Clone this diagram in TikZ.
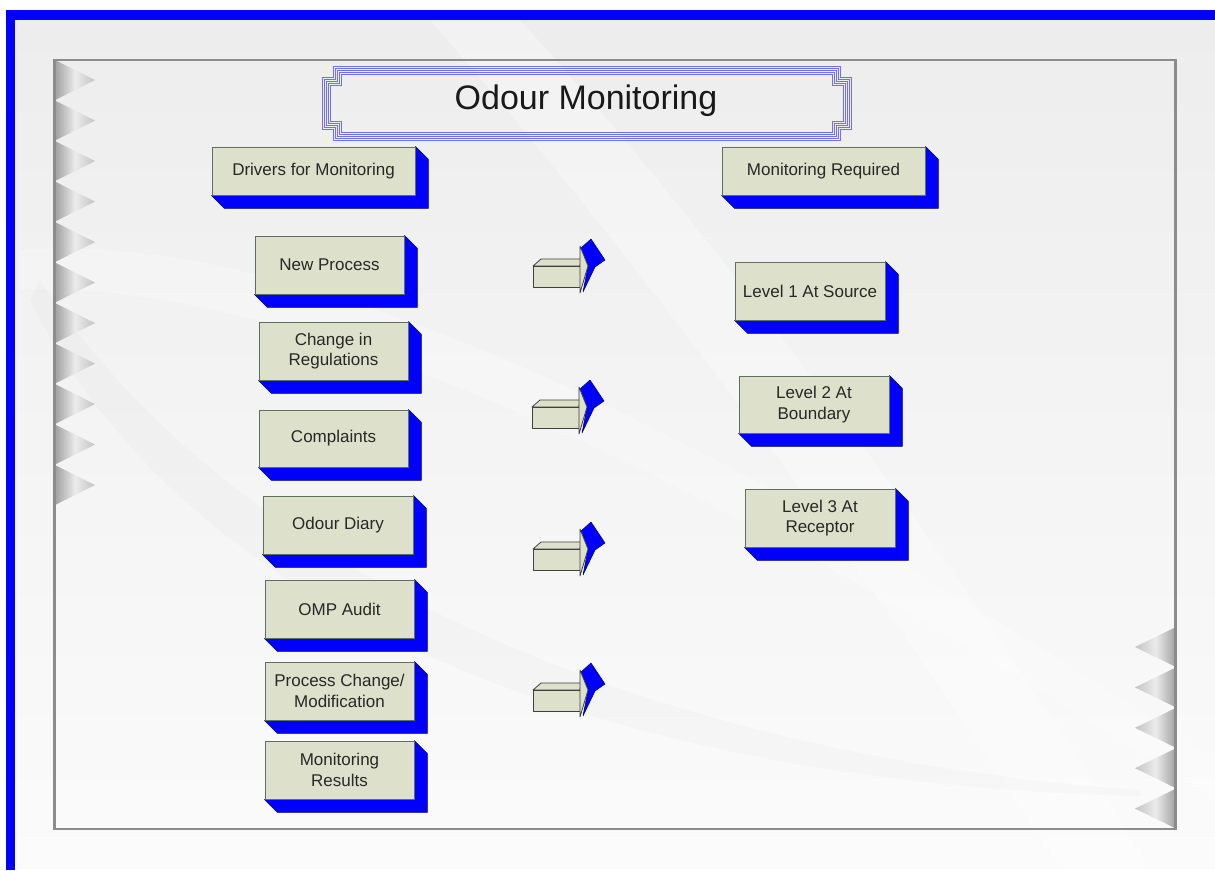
\documentclass[tikz,border=0pt]{standalone}
\usepackage{fontspec}
\setmainfont{Liberation Sans}
\usetikzlibrary{calc}
\definecolor{face}{RGB}{221,224,203}
\definecolor{edgec}{RGB}{95,110,95}
\definecolor{bblue}{RGB}{0,0,255}
\definecolor{txt}{RGB}{40,40,40}
\definecolor{bgtop}{RGB}{237,237,237}
\definecolor{bgbot}{RGB}{251,251,251}
\definecolor{framegray}{RGB}{140,140,140}
\definecolor{titleblue}{RGB}{110,110,255}
\definecolor{trdark}{RGB}{160,160,160}
\definecolor{trmid}{RGB}{235,235,235}
\definecolor{trtip}{RGB}{195,195,195}
\tikzset{
  box/.style={draw=edgec, line width=0.9pt, fill=face, inner sep=0pt, align=center,
    text=txt, font=\fontsize{17}{20.5}\selectfont},
  ext/.style={fill=bblue, draw=black!60!blue, line width=0.5pt, line join=round},
  arrowface/.style={fill=face, draw=black!75, line width=0.8pt, line join=round},
  titleline/.style={draw=titleblue, line width=1pt},
}
\newcommand\tdbox[6]{%
  \node[box, minimum width=#4pt, minimum height=#5pt] (#1) at (#2,#3) {#6};
  \filldraw[ext] (#1.north east) -- ($(#1.north east)+(13,13)$) -- ($(#1.south east)+(13,13)$)
     -- ($(#1.south west)+(13,13)$) -- (#1.south west) -- (#1.south east) -- cycle;
  \draw[edgec, line width=0.9pt] (#1.south west) -- (#1.south east) -- (#1.north east);
}
\newcommand\blockarrow[3]{%
  \coordinate (#1) at (#2,#3);
  \begin{scope}[shift={(#1)}]
    \filldraw[arrowface] (0,0) -- (8,-7) -- (48,-7) -- (47,0) -- cycle;
    \filldraw[arrowface] (0,0) rectangle (47,21);
    \filldraw[ext] (48,-18) -- (58,-27) -- (72,-6) -- (62,1) -- (50,26) -- (55,0) -- cycle;
    \filldraw[arrowface] (47,-20) -- (55,0) -- (47,27) -- cycle;
  \end{scope}
}
\newcommand\notchrect[5]{%
  \draw[titleline] (#1+#5,#2) -- (#3-#5,#2) -- (#3-#5,#2+#5) -- (#3,#2+#5) -- (#3,#4-#5)
    -- (#3-#5,#4-#5) -- (#3-#5,#4) -- (#1+#5,#4) -- (#1+#5,#4-#5) -- (#1,#4-#5)
    -- (#1,#2+#5) -- (#1+#5,#2+#5) -- cycle;
}
\begin{document}
\begin{tikzpicture}[x=1pt,y=-1pt]
\useasboundingbox (0,0) rectangle (1215,870);
\fill[white] (0,0) rectangle (1215,870);
% background
\shade[top color=bgtop, bottom color=bgbot] (15,20) rectangle (1215,868);
\fill[white, opacity=0.3] (430,20) .. controls (640,260) and (860,560) .. (1060,868)
   -- (1150,868) .. controls (940,540) and (720,240) .. (520,20) -- cycle;
\fill[white, opacity=0.25] (20,250) .. controls (300,230) and (700,420) .. (1215,760)
   -- (1215,800) .. controls (700,470) and (300,280) .. (20,290) -- cycle;
\fill[black, opacity=0.015] (40,280) .. controls (250,600) and (700,760) .. (1140,790)
   -- (1140,796) .. controls (650,785) and (200,640) .. (30,300) -- cycle;
% blue border
\fill[bblue] (6,10) rectangle (1215,20);
\fill[bblue] (6,10) rectangle (15,870);
% inner frame
\draw[framegray, line width=2pt] (54,60) rectangle (1176,829);
% left triangles
\foreach \k in {0,...,10} {
  \shade[left color=trdark, right color=trtip, middle color=trmid]
    (55,{60+40.5*\k}) -- (95,{80+40.5*\k}) -- (55,{100+40.5*\k}) -- cycle;
}
% right triangles
\foreach \k in {0,...,4} {
  \shade[left color=trtip, right color=trdark, middle color=trmid]
    (1176,{627+40.4*\k}) -- (1135,{647+40.4*\k}) -- (1176,{667+40.4*\k}) -- cycle;
}
\draw[framegray, line width=2pt] (55,60) -- (55,829);
\draw[framegray, line width=2pt] (1175,60) -- (1175,829);
% title
\foreach \k in {0,2,4,6,8} {
  \notchrect{322+\k}{66+\k}{851-\k}{140-\k}{11}
}
\node[font=\fontsize{34}{40}\selectfont, text=black!90] (title) at (586,101) {Odour Monitoring};
% headers
\tdbox{drivers}{313.5}{171}{203}{48}{Drivers for Monitoring}
\tdbox{required}{823.5}{171}{203}{48}{Monitoring Required}
% left column
\tdbox{newproc}{329.5}{265}{149}{58}{New Process}
\tdbox{change}{333.5}{351}{149}{58}{Change in\\Regulations}
\tdbox{complaints}{333.5}{438.5}{149}{57}{Complaints}
\tdbox{diary}{338}{525}{150}{58}{Odour Diary}
\tdbox{omp}{339.5}{609}{149}{58}{OMP Audit}
\tdbox{procchange}{339.5}{691}{149}{58}{Process Change/\\Modification}
\tdbox{results}{339.5}{770}{149}{58}{Monitoring\\Results}
% right column
\tdbox{level1}{810}{291}{150}{58}{Level 1 At Source}
\tdbox{level2}{814}{404.5}{150}{57}{Level 2 At\\Boundary}
\tdbox{level3}{820}{518}{150}{58}{Level 3 At\\Receptor}
% block arrows
\blockarrow{arrA}{533}{266}
\blockarrow{arrB}{532}{407}
\blockarrow{arrC}{533}{549}
\blockarrow{arrD}{533}{690}
\end{tikzpicture}
\end{document}
